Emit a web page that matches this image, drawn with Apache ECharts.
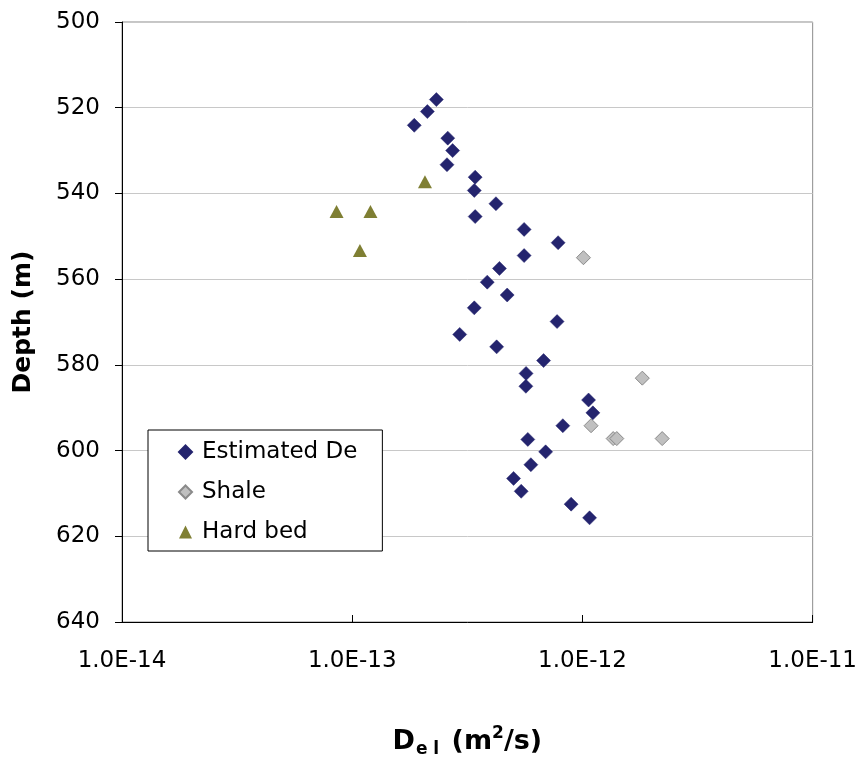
<!DOCTYPE html>
<html>
<head>
<meta charset="utf-8">
<script src="https://cdn.jsdelivr.net/npm/echarts@6/dist/echarts.min.js"></script>
<style>html,body{margin:0;padding:0;background:#fff;}#c{width:860px;height:769px;}</style>
</head>
<body>
<div id="c"></div>
<script>
// Estimated De (navy diamonds): diffusion coefficient (m2/s) and depth (m)
const estDe = [2.32e-13,2.12e-13,1.86e-13,2.60e-13,2.73e-13,2.58e-13,3.42e-13,3.39e-13,4.21e-13,3.42e-13,
  5.58e-13,7.84e-13,5.58e-13,4.36e-13,3.86e-13,4.71e-13,3.39e-13,7.76e-13,2.93e-13,4.24e-13,
  6.78e-13,5.69e-13,5.68e-13,1.063e-12,1.11e-12,8.22e-13,5.79e-13,6.92e-13,5.97e-13,5.02e-13,
  5.42e-13,8.93e-13,1.074e-12];
const estDepth = [518.1,520.9,524.1,527.1,530.0,533.3,536.2,539.3,542.4,545.4,
  548.4,551.5,554.5,557.5,560.7,563.7,566.7,569.9,572.9,575.8,
  579.0,582.0,585.0,588.2,591.2,594.2,597.4,600.3,603.3,606.5,
  609.5,612.5,615.7];
// Shale (gray diamonds)
const shaleDe = [1.01e-12,1.82e-12,1.09e-12,1.36e-12,1.41e-12,2.22e-12];
const shaleDepth = [555.0,583.1,594.2,597.2,597.2,597.2];
// Hard bed (olive triangles)
const hardDe = [2.07e-13,8.55e-14,1.20e-13,1.08e-13];
const hardDepth = [537.3,544.2,544.2,553.3];

const seriesNames = ['Estimated De','Shale','Hard bed'];
const xTicks = [1e-14,1e-13,1e-12,1e-11];
const yTicks = [500,520,540,560,580,600,620,640];

const zip = (a,b) => a.map((v,i)=>[v,b[i]]);
const FONT = '"DejaVu Sans", "Liberation Sans", Arial, sans-serif';

const chart = echarts.init(document.getElementById('c'), null, {renderer:'canvas'});
chart.setOption({
  animation:false,
  backgroundColor:'#fff',
  grid:{left:122,right:47,top:22,bottom:147,show:true,borderColor:'#8c8c8c',borderWidth:1,backgroundColor:'transparent'},
  legend:{
    orient:'vertical', left:148, top:430,
    backgroundColor:'#fff', borderColor:'#000', borderWidth:1, borderRadius:0,
    padding:[8,25,5,30], itemGap:12, itemWidth:13, itemHeight:13,
    textStyle:{fontFamily:FONT,fontSize:23,color:'#000',lineHeight:28,padding:[0,0,0,5]},
    data:[
      {name:seriesNames[0],icon:'diamond'},
      {name:seriesNames[1],icon:'diamond'},
      {name:seriesNames[2],icon:'triangle'}
    ]
  },
  xAxis:{
    type:'log', logBase:10, min:xTicks[0], max:xTicks[xTicks.length-1],
    name:'{b|D}{s|e l}{b| (m}{p|2}{b|/s)}',
    nameLocation:'middle', nameGap:104,
    nameTextStyle:{rich:{
      b:{fontFamily:FONT,fontSize:27,fontWeight:'bold',color:'#000',lineHeight:32},
      s:{fontFamily:FONT,fontSize:17,fontWeight:'bold',color:'#000',lineHeight:32,padding:[16,3,0,1]},
      p:{fontFamily:FONT,fontSize:17,fontWeight:'bold',color:'#000',lineHeight:32,padding:[0,0,16,0]}
    }},
    axisLine:{show:true,lineStyle:{color:'#000',width:1}},
    axisTick:{show:true,inside:true,length:7,lineStyle:{color:'#000'}},
    minorTick:{show:false},
    splitLine:{show:false},
    axisLabel:{fontFamily:FONT,fontSize:23,color:'#000',margin:28,
      formatter:v=>Number(v).toExponential(1).toUpperCase()}
  },
  yAxis:{
    type:'value', inverse:true, min:yTicks[0], max:yTicks[yTicks.length-1], interval:20,
    name:'Depth (m)', nameLocation:'middle', nameGap:86,
    nameTextStyle:{fontFamily:FONT,fontSize:25,fontWeight:'bold',color:'#000'},
    axisLine:{show:true,lineStyle:{color:'#000',width:1}},
    axisTick:{show:true,inside:false,length:7,lineStyle:{color:'#000'}},
    splitLine:{show:true,lineStyle:{color:'#c8c8c8',width:1}},
    axisLabel:{fontFamily:FONT,fontSize:23,color:'#000',margin:22}
  },
  series:[
    {name:seriesNames[0],type:'scatter',symbol:'diamond',symbolSize:14,
     itemStyle:{color:'#24246e',borderColor:'#24246e',borderWidth:0.5,opacity:1},
     data:zip(estDe,estDepth),z:3},
    {name:seriesNames[1],type:'scatter',symbol:'diamond',symbolSize:14,
     itemStyle:{color:'#c0c0c0',borderColor:'#8a8a8a',borderWidth:1,opacity:1},
     data:zip(shaleDe,shaleDepth),z:2},
    {name:seriesNames[2],type:'scatter',symbol:'triangle',symbolSize:[14,13],
     itemStyle:{color:'#7f7f33',opacity:1},
     data:zip(hardDe,hardDepth),z:2}
  ]
});
</script>
</body>
</html>
